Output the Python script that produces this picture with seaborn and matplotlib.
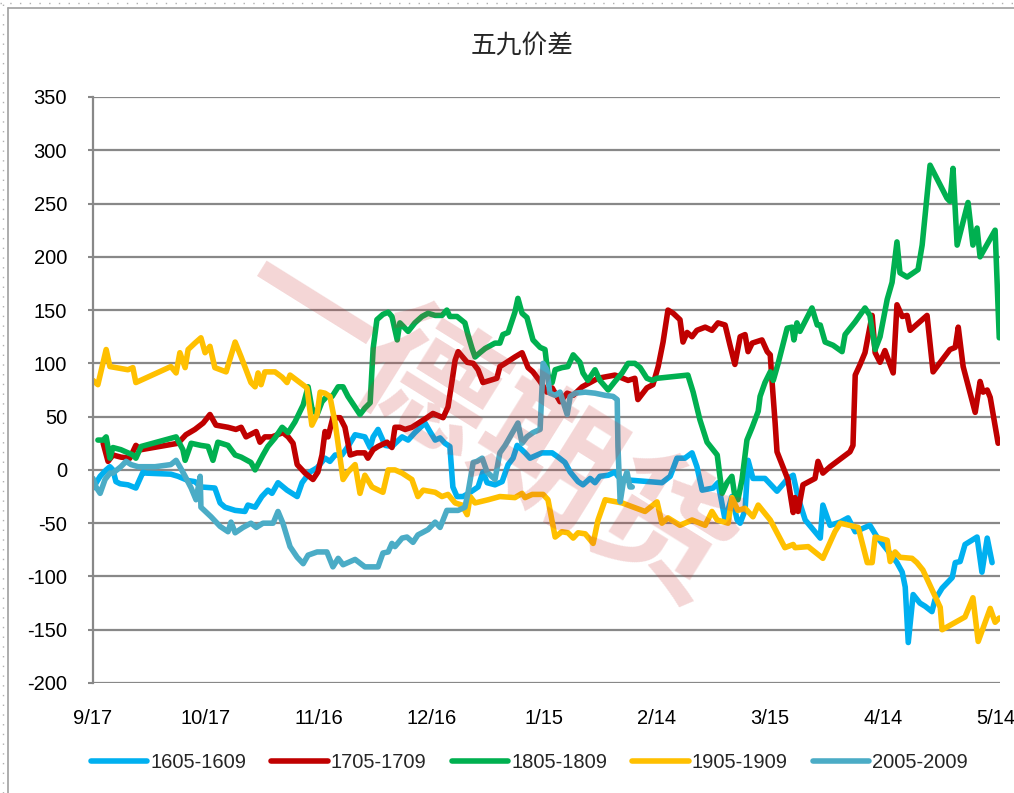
# 五九价差 line chart, redrawn with seaborn
import matplotlib
matplotlib.use("Agg")
import matplotlib.pyplot as plt
import matplotlib.font_manager as fm
from matplotlib.lines import Line2D
import seaborn as sns
import pandas as pd

# ---- data: (days after 9/17, spread) ----
series_names = ["1605-1609", "1705-1709", "1805-1809", "1905-1909", "2005-2009"]
series_colors = ["#00B0F0", "#C00000", "#00B050", "#FFC000", "#4BACC6"]

tick_days = [0, 30, 60, 90, 120, 150, 180, 210, 240]
tick_labels = ["9/17", "10/17", "11/16", "12/16", "1/15", "2/14", "3/15", "4/14", "5/14"]
y_ticks = [-200, -150, -100, -50, 0, 50, 100, 150, 200, 250, 300, 350]

pts_1605 = [
    (0, -17), (1.9, -6), (3.5, 0), (4.5, 3), (5.3, 0), (6.1, -11), (7.2, -13), (9.3, -14),
    (11.4, -17), (13.3, -2), (14.1, -3), (20.7, -4), (22.6, -6), (25.3, -10), (27.1, -11),
    (28.7, -16), (32.4, -17), (33.8, -31), (35.1, -35), (37.8, -38), (40.4, -39), (41.2, -33),
    (43.1, -35), (44.9, -25), (46.5, -19), (47.6, -22), (49.2, -12), (51.6, -19), (54.3, -25),
    (55.6, -12), (57.7, -2), (59.6, 2), (61.7, 11), (63.0, 8), (64.4, 14), (66.2, 14),
    (67.8, 22), (69.7, 33), (72.3, 31), (73.7, 21), (74.5, 31), (75.8, 38), (77.7, 23),
    (79.5, 22), (82.2, 31), (83.8, 28), (85.6, 35), (88.3, 44), (89.6, 36), (91.0, 28),
    (92.3, 30), (93.6, 25), (94.9, 22), (95.7, -16), (96.8, -25), (98.4, -25), (100.3, -21),
    (102.4, -16), (103.7, -2), (104.8, -12), (106.9, -14), (108.8, -11), (110.4, 5),
    (111.7, 11), (112.8, 23), (114.9, 16), (116.2, 11), (118.1, 14), (119.4, 16), (122.1, 16),
    (123.7, 12), (125.5, 7), (126.9, -2), (129.0, -11), (130.3, -14), (132.2, -8),
    (133.5, -12), (134.8, -6), (137.0, -5), (138.8, -2), (139.6, -6), (140.7, -9),
    (151.3, -12), (153.5, -6), (155.3, 11), (157.4, 11), (159.3, 16), (160.6, 3),
    (162.0, -19), (164.9, -17), (166.2, -12), (168.1, -47), (169.9, -25), (171.3, -47),
    (172.1, -50), (173.4, -38), (174.2, 9), (175.5, -8), (178.7, -8), (181.9, -20),
    (184.8, -8), (186.2, -5), (187.5, -26), (189.4, -47), (193.4, -64), (194.1, -33),
    (196.0, -52), (198.7, -49), (200.8, -45), (202.7, -58), (206.6, -52), (208.5, -63),
    (211.2, -75), (213.8, -87), (215.2, -96), (216.0, -110), (216.8, -162), (218.1, -117),
    (219.9, -125), (221.3, -128), (223.1, -133), (223.9, -122), (225.8, -111), (228.5, -101),
    (229.3, -87), (230.6, -86), (231.9, -70), (235.1, -63), (236.4, -96), (237.8, -64),
    (239.1, -87),
]

pts_1705 = [
    (2.7, 25), (4.0, 8), (5.3, 14), (7.4, 12), (9.8, 11), (11.4, 23), (12.8, 19), (22.6, 25),
    (24.7, 33), (27.1, 38), (29.3, 44), (31.1, 52), (32.7, 42), (35.9, 40), (38.0, 38),
    (39.4, 40), (40.7, 31), (43.4, 36), (44.4, 26), (45.7, 31), (47.6, 31), (50.5, 35),
    (51.9, 31), (53.2, 25), (54.3, 5), (56.4, -3), (58.5, -9), (59.8, -2), (60.9, 14),
    (61.7, 36), (62.5, 31), (63.8, 49), (65.7, 49), (67.0, 40), (68.4, 14), (70.2, 16),
    (72.3, 16), (73.1, 11), (74.5, 19), (75.8, 22), (78.2, 26), (79.5, 21), (80.3, 40),
    (81.6, 40), (83.0, 38), (84.8, 40), (87.0, 45), (88.8, 49), (90.4, 53), (93.1, 49),
    (94.4, 59), (95.5, 84), (96.3, 103), (97.1, 111), (99.5, 101), (101.1, 100), (102.4, 94),
    (103.7, 82), (107.4, 86), (108.2, 97), (109.6, 100), (112.2, 106), (114.1, 110),
    (115.7, 96), (117.0, 92), (118.9, 83), (120.7, 73), (122.1, 77), (124.2, 64), (126.1, 72),
    (127.7, 70), (130.1, 78), (132.2, 82), (134.3, 86), (138.8, 89), (142.3, 84), (144.1, 86),
    (144.9, 66), (147.3, 77), (148.9, 80), (150.3, 97), (151.6, 120), (152.9, 150),
    (154.3, 147), (156.1, 141), (156.9, 120), (158.0, 129), (159.3, 125), (160.6, 131),
    (162.8, 134), (164.6, 131), (166.2, 138), (168.1, 136), (169.4, 117), (170.7, 99),
    (172.1, 125), (173.4, 127), (174.2, 111), (175.3, 119), (177.9, 122), (179.3, 111),
    (180.1, 108), (180.6, 82), (181.4, 44), (181.9, 17), (184.0, -2), (184.8, -9),
    (186.2, -40), (186.7, -26), (187.5, -39), (188.8, -14), (192.0, -8), (192.8, 8),
    (194.1, -3), (196.0, 3), (201.3, 17), (202.1, 23), (202.7, 89), (204.0, 99), (205.3, 110),
    (206.1, 125), (207.2, 145), (208.0, 110), (209.3, 101), (210.6, 112), (212.8, 91),
    (213.8, 155), (215.2, 144), (216.5, 145), (217.3, 131), (221.8, 145), (223.4, 92),
    (227.9, 113), (229.3, 115), (230.1, 134), (231.4, 97), (234.6, 54), (235.9, 83),
    (236.7, 73), (237.8, 75), (238.6, 68), (240.7, 25),
]

pts_1805 = [
    (1.3, 28), (2.7, 28), (3.5, 31), (4.5, 11), (5.3, 21), (7.4, 19), (9.3, 16), (10.6, 14),
    (11.4, 11), (12.8, 22), (22.1, 31), (23.9, 19), (24.5, 9), (26.1, 25), (28.7, 23),
    (30.6, 22), (31.9, 9), (33.2, 26), (35.9, 23), (37.8, 14), (39.4, 12), (42.0, 7),
    (43.1, 0), (45.2, 14), (46.5, 22), (48.4, 30), (50.3, 40), (51.9, 35), (53.7, 45),
    (55.9, 61), (57.2, 78), (58.2, 58), (59.6, 52), (60.9, 64), (62.2, 69), (63.6, 69),
    (65.2, 78), (66.5, 78), (67.8, 69), (69.7, 59), (71.0, 52), (72.3, 58), (73.7, 63),
    (74.5, 114), (75.5, 141), (77.1, 146), (78.5, 148), (79.5, 144), (80.9, 122), (81.6, 138),
    (83.8, 130), (85.6, 138), (87.5, 144), (89.1, 147), (91.0, 145), (92.8, 145), (94.1, 150),
    (94.9, 144), (96.8, 144), (98.9, 138), (99.7, 127), (100.8, 114), (101.6, 106),
    (102.9, 110), (104.3, 114), (106.9, 119), (108.2, 119), (109.0, 127), (110.4, 129),
    (112.2, 148), (113.0, 161), (114.1, 147), (115.4, 143), (117.0, 122), (118.9, 115),
    (120.2, 113), (121.0, 89), (122.1, 82), (122.9, 94), (124.7, 96), (126.3, 97),
    (127.7, 108), (129.5, 101), (130.3, 91), (131.6, 84), (133.5, 94), (134.8, 84),
    (137.0, 75), (138.8, 83), (140.7, 91), (142.3, 100), (144.1, 100), (145.5, 96),
    (147.3, 86), (148.7, 84), (150.0, 86), (158.2, 89), (159.6, 73), (161.4, 47),
    (163.3, 26), (166.0, 14), (167.3, -22), (168.6, -12), (169.9, -6), (170.7, -25),
    (171.5, -28), (172.6, -9), (173.9, 28), (175.3, 40), (176.9, 55), (177.4, 69),
    (178.7, 82), (180.1, 92), (180.9, 84), (182.2, 100), (184.6, 133), (185.9, 134),
    (186.4, 122), (187.2, 138), (188.0, 130), (191.2, 152), (192.6, 136), (193.4, 136),
    (194.7, 120), (196.8, 117), (199.2, 111), (200.0, 127), (202.7, 139), (205.3, 152),
    (206.6, 145), (208.0, 113), (209.3, 125), (211.2, 160), (212.5, 176), (213.8, 214),
    (214.6, 185), (216.5, 181), (219.4, 188), (220.5, 211), (222.6, 286), (227.1, 255),
    (227.9, 252), (228.7, 283), (229.8, 211), (232.7, 251), (234.0, 211), (235.1, 227),
    (235.9, 200), (239.9, 225), (241.0, 124),
]

pts_1905 = [
    (0, 84), (1.3, 80), (3.5, 113), (4.5, 97), (9.3, 94), (10.6, 96), (11.4, 82), (20.7, 97),
    (22.1, 91), (23.1, 110), (24.5, 96), (25.3, 113), (27.1, 119), (28.7, 124), (29.8, 110),
    (31.1, 116), (32.4, 96), (35.4, 92), (37.8, 120), (39.4, 106), (42.0, 82), (43.1, 78),
    (43.9, 91), (44.7, 80), (45.7, 92), (48.4, 92), (50.3, 87), (51.6, 82), (52.4, 89),
    (56.9, 77), (58.2, 42), (59.6, 52), (60.4, 73), (61.7, 72), (63.0, 69), (64.4, 44),
    (66.5, -9), (67.8, -2), (69.7, 5), (71.0, -22), (72.3, -5), (74.2, -16), (77.1, -21),
    (78.5, 0), (80.3, 0), (82.2, -3), (84.8, -9), (86.4, -25), (87.8, -19), (91.0, -21),
    (92.8, -25), (94.4, -23), (96.3, -31), (98.1, -33), (99.5, -42), (100.3, -25),
    (101.6, -31), (105.1, -28), (108.2, -25), (112.2, -26), (114.1, -22), (114.9, -26),
    (116.8, -23), (119.7, -23), (121.0, -28), (122.9, -63), (124.7, -58), (126.3, -59),
    (127.7, -64), (129.0, -59), (130.9, -60), (133.0, -69), (134.3, -47), (136.2, -28),
    (140.7, -31), (146.8, -39), (150.0, -30), (151.3, -50), (152.9, -45), (156.1, -52),
    (159.3, -47), (162.8, -52), (164.6, -39), (166.0, -47), (168.9, -50), (169.9, -26),
    (171.5, -38), (173.4, -36), (175.5, -44), (176.9, -33), (180.1, -47), (184.0, -73),
    (186.2, -70), (186.7, -73), (190.2, -72), (194.1, -83), (197.3, -58), (198.7, -50),
    (203.5, -54), (205.9, -87), (207.2, -87), (208.0, -63), (211.2, -66), (212.0, -86),
    (213.3, -77), (214.6, -82), (217.8, -83), (219.1, -87), (220.7, -94), (225.3, -129),
    (225.8, -150), (231.9, -138), (234.0, -120), (235.4, -161), (238.6, -130), (239.9, -143),
    (241.0, -139),
]

pts_2005 = [
    (0, -8), (0.8, -16), (1.9, -22), (3.2, -9), (4.5, -3), (5.3, -3), (7.4, 3), (8.8, 8),
    (10.1, 5), (12.0, 3), (16.5, 3), (20.7, 5), (22.1, 9), (23.1, 3), (24.5, -6), (26.1, -17),
    (27.4, -28), (28.5, -6), (28.7, -35), (31.4, -44), (33.8, -53), (35.9, -58), (36.7, -49),
    (37.8, -59), (39.9, -54), (42.0, -50), (43.4, -54), (45.2, -50), (47.9, -50), (49.2, -39),
    (50.5, -50), (52.4, -72), (54.3, -82), (55.9, -88), (57.2, -80), (59.6, -77), (62.2, -77),
    (63.8, -91), (65.2, -83), (66.5, -89), (69.7, -84), (72.3, -91), (75.8, -91), (77.1, -78),
    (78.5, -77), (79.5, -69), (80.3, -72), (82.2, -64), (83.5, -63), (85.1, -68), (86.4, -61),
    (87.5, -59), (89.1, -56), (91.0, -49), (92.3, -54), (94.1, -38), (97.1, -38), (98.9, -35),
    (99.7, -22), (101.1, 7), (102.1, 8), (103.5, 11), (104.8, -2), (106.9, -9), (108.2, 16),
    (109.6, 23), (110.9, 31), (112.2, 39), (113.0, 44), (114.1, 25), (115.4, 31), (117.0, 35),
    (118.9, 38), (119.7, 100), (120.7, 94), (121.5, 72), (122.9, 70), (124.2, 73),
    (126.1, 52), (126.9, 69), (128.2, 72), (130.9, 73), (133.5, 72), (136.2, 70), (138.3, 69),
    (139.4, 66), (139.6, 22), (140.2, -30), (141.0, -12), (142.0, -2), (142.8, -16),
    (143.4, -16),
]

all_pts = [pts_1605, pts_1705, pts_1805, pts_1905, pts_2005]

# ---- long table for seaborn ----
frames = []
for name, pts in zip(series_names, all_pts):
    frames.append(pd.DataFrame({"day": [p[0] for p in pts],
                                "value": [p[1] for p in pts],
                                "series": name}))
df = pd.concat(frames, ignore_index=True)

# ---- style / fonts ----
sns.set_style("white")
try:
    fm.findfont(fm.FontProperties(family="Liberation Sans Narrow"), fallback_to_default=False)
    num_font = "Liberation Sans Narrow"
except ValueError:
    num_font = "Liberation Sans"
plt.rcParams["font.family"] = [num_font, "Noto Sans CJK SC", "DejaVu Sans"]
plt.rcParams["axes.unicode_minus"] = False

grid_color = "#888888"
W, H = 1014, 793
lab_size = 14.5

fig = plt.figure(figsize=(W / 100, H / 100), dpi=100)
ax = fig.add_axes([93 / W, 1 - 683 / H, (1000 - 93) / W, (683 - 97) / H])

sns.lineplot(data=df, x="day", y="value", hue="series", hue_order=series_names,
             palette=series_colors, estimator=None, sort=False, linewidth=4.0,
             legend=False, ax=ax, solid_capstyle="round", solid_joinstyle="round")

ax.set_xlim(0, 241.2)
ax.set_ylim(-200, 350)
ax.set_xticks(tick_days)
ax.set_xticklabels(tick_labels)
ax.set_yticks(y_ticks)
ax.set_xlabel("")
ax.set_ylabel("")

ax.yaxis.grid(True, color=grid_color, linewidth=1.6)
ax.xaxis.grid(False)
ax.set_axisbelow(True)
for side in ["top", "right", "bottom"]:
    ax.spines[side].set_visible(False)
ax.spines["left"].set_color(grid_color)
ax.spines["left"].set_linewidth(1.6)
ax.tick_params(axis="y", length=3.6, width=1.5, color=grid_color, pad=15,
               labelsize=lab_size, labelcolor="black", left=True)
ax.tick_params(axis="x", length=0, pad=19, labelsize=lab_size, labelcolor="black")

# title
fig.text(0.515, 1 - 47 / H, "五九价差", ha="center", va="center", fontsize=18.5,
         family=["Noto Sans CJK SC", "DejaVu Sans"])

# legend
handles = [Line2D([0], [0], color=c, lw=4.0, solid_capstyle="round") for c in series_colors]
fig.legend(handles, series_names, loc="center", bbox_to_anchor=(0.522, 0.039), ncol=5,
           frameon=False, handlelength=2.8, handletextpad=0.15, columnspacing=1.25,
           fontsize=lab_size)

# watermark on top of the lines
fig.text(0.478, 0.463, "一德期货", rotation=-32, ha="center", va="center",
         fontsize=100, fontweight="bold", color="#C83232", alpha=0.2,
         family=["Noto Sans CJK SC", "DejaVu Sans"], zorder=10)

# chart-area border and dotted outline
fig.add_artist(Line2D([8 / W, 1], [1 - 8 / H, 1 - 8 / H], transform=fig.transFigure,
                      color="#A0A0A0", lw=1.2))
fig.add_artist(Line2D([8 / W, 8 / W], [0, 1 - 8 / H], transform=fig.transFigure,
                      color="#A0A0A0", lw=1.2))
fig.add_artist(Line2D([0, 1], [1 - 2.5 / H, 1 - 2.5 / H], transform=fig.transFigure,
                      color="#B0B0B0", lw=1.0, linestyle=(0, (1, 6))))
fig.add_artist(Line2D([2.5 / W, 2.5 / W], [0, 1], transform=fig.transFigure,
                      color="#B0B0B0", lw=1.0, linestyle=(0, (1, 6))))

fig.savefig("out.png", dpi=100)
